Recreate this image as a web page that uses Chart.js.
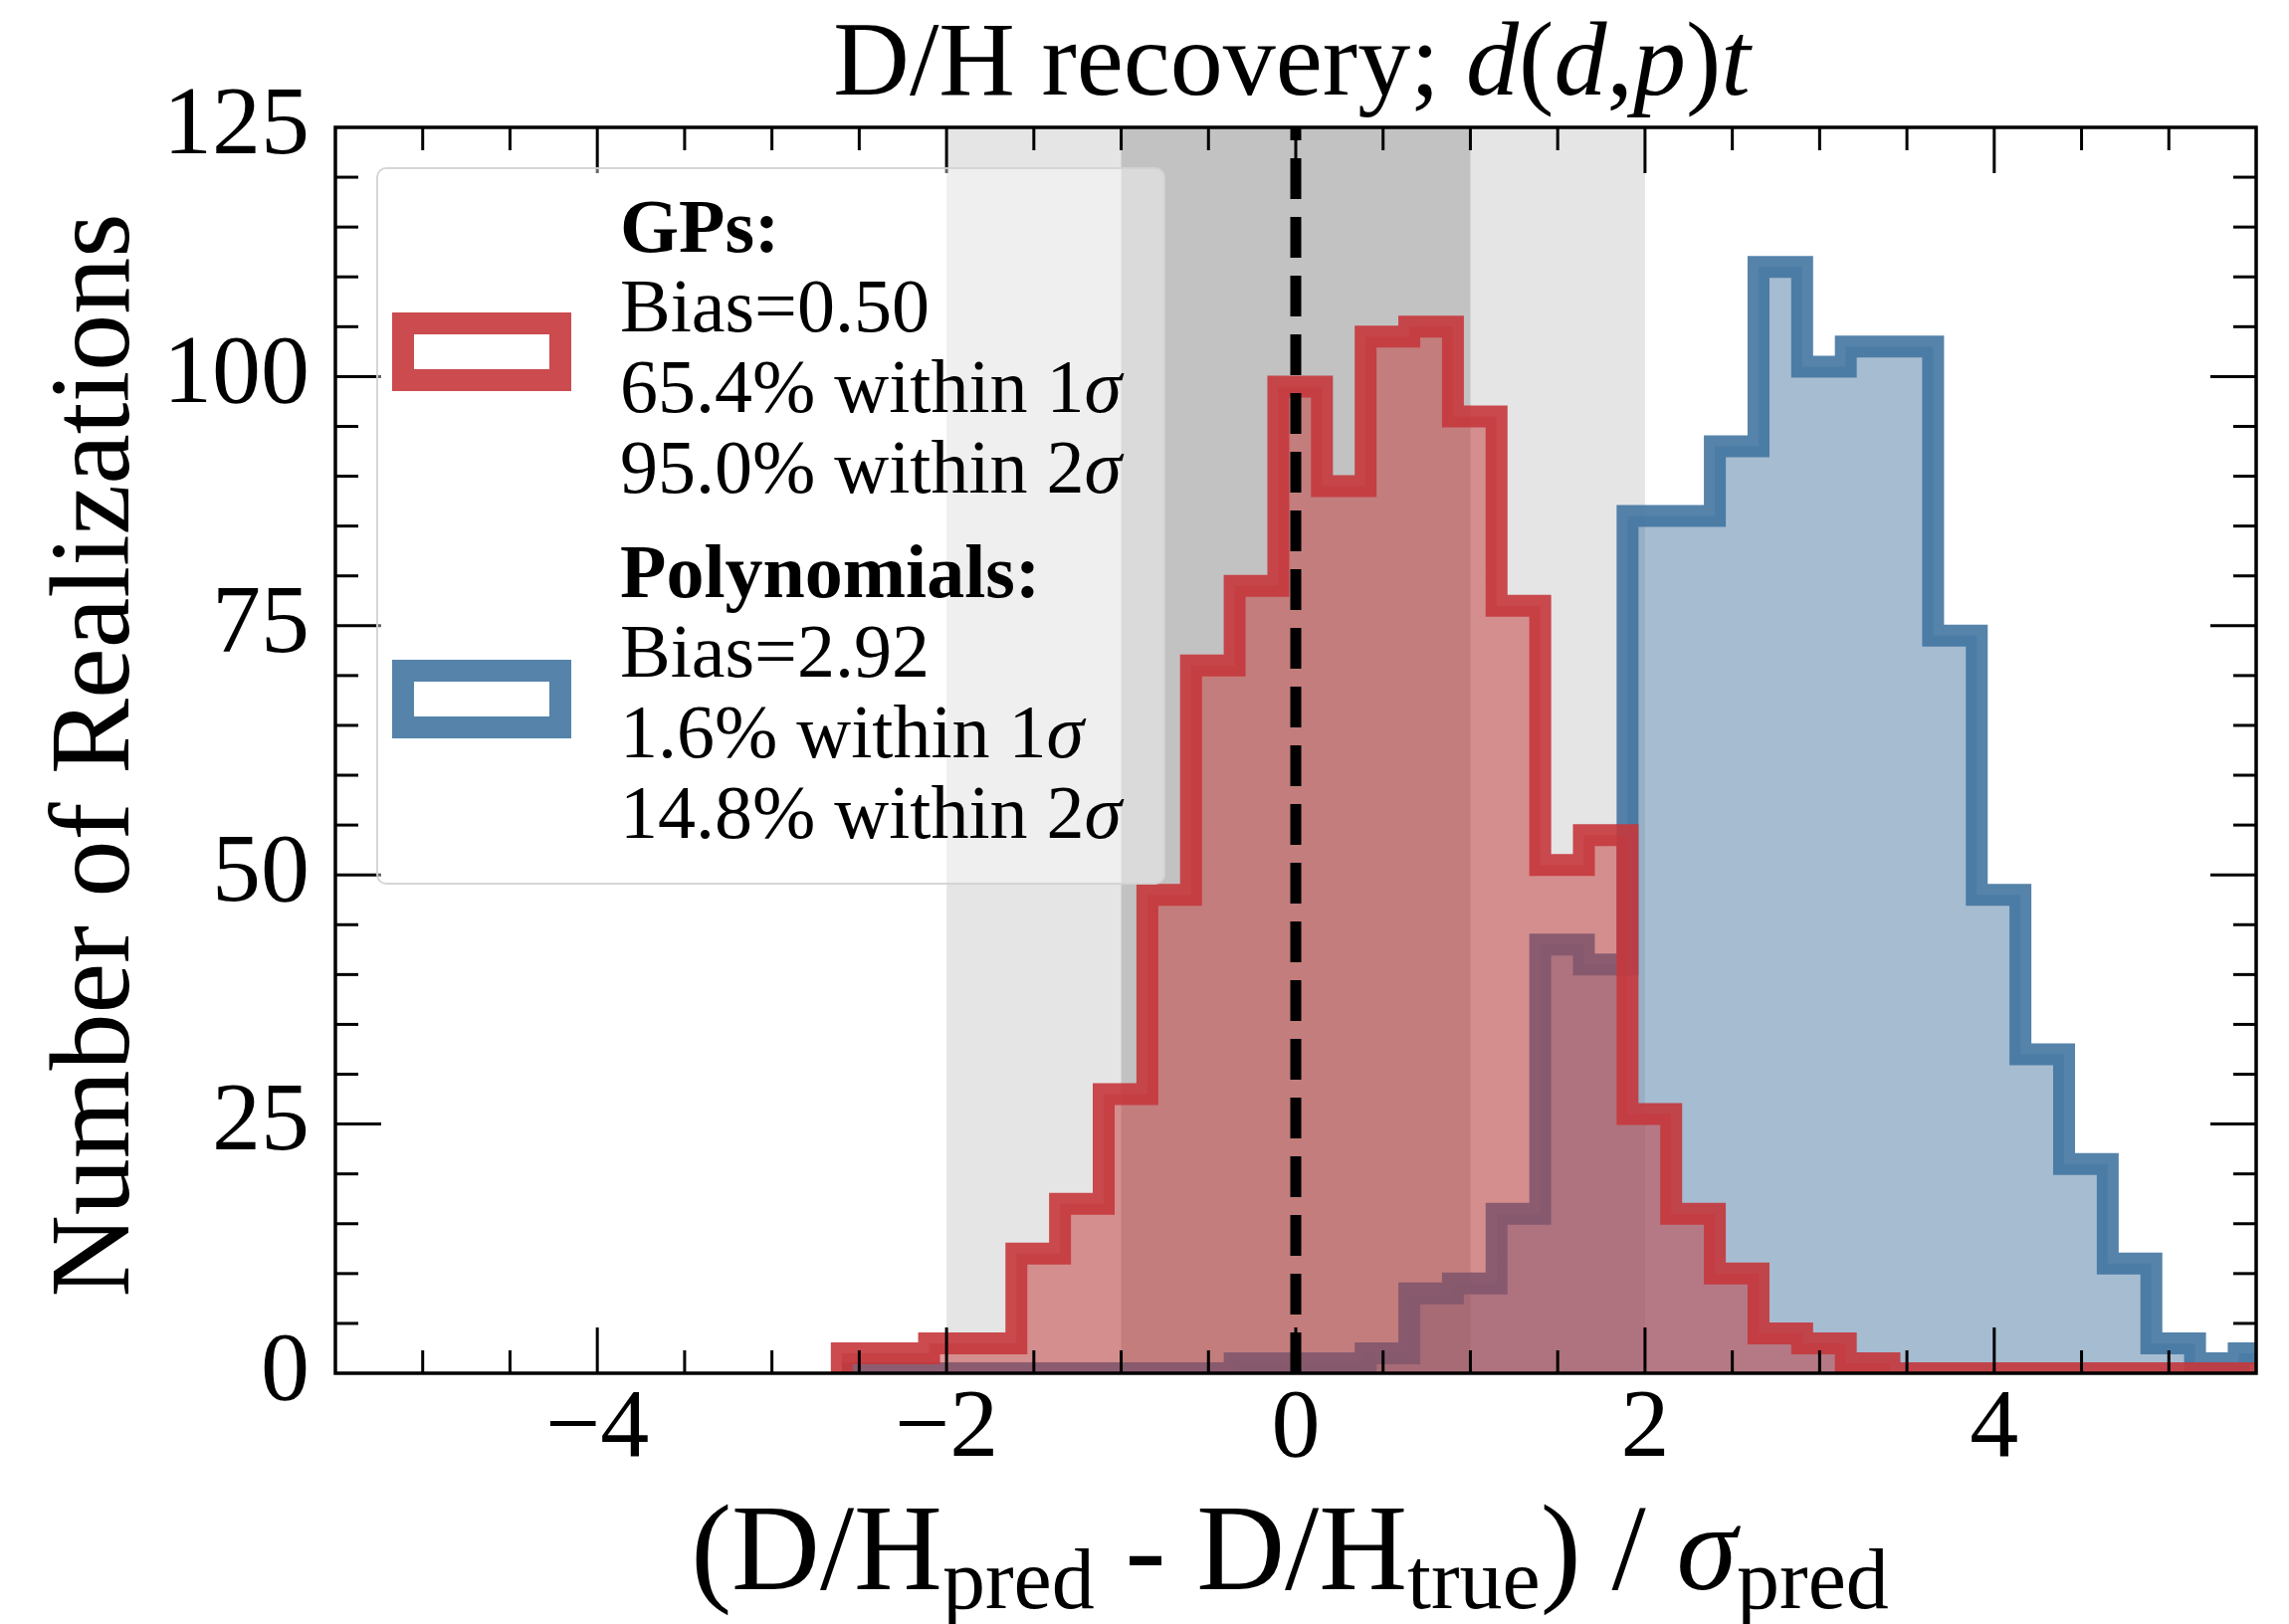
<!DOCTYPE html>
<html>
<head>
<meta charset="utf-8">
<script src="https://cdn.jsdelivr.net/npm/chart.js@4.4.0/dist/chart.umd.min.js"></script>
<style>
  html, body { margin: 0; padding: 0; background: #ffffff; }
  #wrap { width: 2300px; height: 1632px; position: relative; }
</style>
</head>
<body>
<div id="wrap"><canvas id="chart"></canvas></div>
<script>
// ---------------- data ----------------
const binEdges = [-2.60, -2.35, -2.10, -1.85, -1.60, -1.35, -1.10, -0.85, -0.60, -0.35,
                  -0.10, 0.15, 0.40, 0.65, 0.90, 1.15, 1.40, 1.65, 1.90, 2.15,
                  2.40, 2.65, 2.90, 3.15, 3.40, 3.65, 3.90, 4.15, 4.40, 4.65,
                  4.90, 5.15, 5.40, 5.65];
const gpCounts   = [2, 2, 3, 3, 12, 17, 28, 48, 71, 79,
                    99, 89, 104, 105, 96, 77, 51, 54, 26, 16,
                    10, 4, 3, 1, 0, 0, 0, 0, 0, 0,
                    0, 0, 0];
const polyCounts = [0, 0, 0, 0, 0, 0, 0, 0, 0, 1,
                    1, 1, 2, 8, 9, 16, 43, 41, 86, 86,
                    93, 111, 101, 103, 103, 74, 48, 32, 21, 11,
                    3, 1, 2];
const xTicks = [-4, -2, 0, 2, 4];
const yTicks = [0, 25, 50, 75, 100, 125];
const sigmaBands = [2, 1];
const refLine = 0;
const seriesNames = ['GPs:', 'Polynomials:'];
const gpStats   = ['Bias=0.50', '65.4% within 1σ', '95.0% within 2σ'];
const polyStats = ['Bias=2.92', '1.6% within 1σ', '14.8% within 2σ'];
const chartTitle = 'D/H recovery; d(d,p)t';
const yTitle = 'Number of Realizations';

// ---------------- styling ----------------
const SERIF = "'Liberation Serif', 'DejaVu Serif', serif";
const RED_LINE = 'rgba(197,55,60,0.9)';
const RED_FILL = 'rgba(195,55,55,0.5)';
const BLUE_LINE = 'rgba(66,117,161,0.9)';
const BLUE_FILL = 'rgba(77,121,163,0.5)';

function stepPoints(edges, counts) {
  const pts = [{ x: edges[0], y: 0 }];
  counts.forEach((c, i) => pts.push({ x: edges[i], y: c }));
  pts.push({ x: edges[edges.length - 1], y: 0 });
  return pts;
}

function fmtTick(v) {
  return v < 0 ? '\u2212' + Math.abs(v) : String(v);
}

function drawRich(ctx, segs, x, y, align) {
  let total = 0;
  const widths = segs.map(s => { ctx.font = s.font; const w = ctx.measureText(s.text).width; total += w; return w; });
  let cx = align === 'center' ? x - total / 2 : x;
  ctx.textAlign = 'left';
  ctx.textBaseline = 'alphabetic';
  segs.forEach((s, i) => {
    ctx.font = s.font;
    ctx.fillText(s.text, cx, y + (s.dy || 0));
    cx += widths[i];
  });
}

function sigmaSegs(str, size, weight) {
  const parts = str.split('σ');
  const segs = [];
  parts.forEach((p, i) => {
    if (p) segs.push({ text: p, font: `${weight} ${size}px ${SERIF}` });
    if (i < parts.length - 1) segs.push({ text: 'σ', font: `italic ${weight} ${size}px ${SERIF}` });
  });
  return segs;
}

// bands under the histograms, dashed reference line above them
const bandsPlugin = {
  id: 'bands',
  beforeDatasetsDraw(chart) {
    const { ctx, chartArea: a, scales: { x } } = chart;
    ctx.save();
    const cols = ['#e5e5e5', '#c2c2c2'];
    sigmaBands.forEach((s, i) => {
      const l = x.getPixelForValue(-s), r = x.getPixelForValue(s);
      ctx.fillStyle = cols[i];
      ctx.fillRect(l, a.top, r - l, a.bottom - a.top);
    });
    ctx.restore();
  },
  afterDatasetsDraw(chart) {
    const { ctx, chartArea: a, scales: { x } } = chart;
    const px = x.getPixelForValue(refLine);
    ctx.save();
    ctx.strokeStyle = '#000';
    ctx.lineWidth = 11;
    ctx.lineCap = 'butt';
    ctx.setLineDash([41, 18]);
    ctx.beginPath();
    ctx.moveTo(px, a.bottom);
    ctx.lineTo(px, a.top);
    ctx.stroke();
    ctx.restore();
  }
};

// frame, inward ticks, titles, legend
const decorPlugin = {
  id: 'decor',
  afterDraw(chart) {
    const { ctx, chartArea: a, scales: { x, y } } = chart;
    ctx.save();
    ctx.strokeStyle = '#000';
    ctx.lineWidth = 3;
    const line = (x1, y1, x2, y2) => { ctx.beginPath(); ctx.moveTo(x1, y1); ctx.lineTo(x2, y2); ctx.stroke(); };
    for (let k = -10; k <= 10; k++) {
      const v = k * 0.5;
      const px = x.getPixelForValue(v);
      const L = xTicks.includes(v) ? 46 : 23;
      line(px, a.bottom, px, a.bottom - L);
      line(px, a.top, px, a.top + L);
    }
    for (let k = 1; k < 25; k++) {
      const v = k * 5;
      const py = y.getPixelForValue(v);
      const L = yTicks.includes(v) ? 46 : 23;
      line(a.left, py, a.left + L, py);
      line(a.right, py, a.right - L, py);
    }
    ctx.lineWidth = 3.5;
    ctx.strokeRect(a.left, a.top, a.right - a.left, a.bottom - a.top);

    ctx.fillStyle = '#000';
    // chart title
    const T = 106;
    drawRich(ctx, [
      { text: 'D/H recovery; ', font: `${T}px ${SERIF}` },
      { text: 'd', font: `italic ${T}px ${SERIF}` },
      { text: '(', font: `${T}px ${SERIF}` },
      { text: 'd', font: `italic ${T}px ${SERIF}` },
      { text: ',', font: `${T}px ${SERIF}` },
      { text: 'p', font: `italic ${T}px ${SERIF}` },
      { text: ')', font: `${T}px ${SERIF}` },
      { text: 't', font: `italic ${T}px ${SERIF}` }
    ], (a.left + a.right) / 2 - 4, 95, 'center');

    // x-axis title
    const M = 123, S = 86, D = 19;
    drawRich(ctx, [
      { text: '(D/H', font: `${M}px ${SERIF}` },
      { text: 'pred', font: `${S}px ${SERIF}`, dy: D },
      { text: ' - D/H', font: `${M}px ${SERIF}` },
      { text: 'true', font: `${S}px ${SERIF}`, dy: D },
      { text: ') / ', font: `${M}px ${SERIF}` },
      { text: 'σ', font: `italic ${M}px ${SERIF}` },
      { text: 'pred', font: `${S}px ${SERIF}`, dy: D }
    ], (a.left + a.right) / 2 - 6, 1597, 'center');

    // y-axis title
    ctx.save();
    ctx.translate(129, (a.top + a.bottom) / 2 + 5);
    ctx.rotate(-Math.PI / 2);
    ctx.font = `114px ${SERIF}`;
    ctx.textAlign = 'center';
    ctx.textBaseline = 'alphabetic';
    ctx.fillText(yTitle, 0, 0);
    ctx.restore();

    // legend
    ctx.beginPath();
    ctx.roundRect(379, 169, 791, 719, 9);
    ctx.fillStyle = 'rgba(255,255,255,0.4)';
    ctx.fill();
    ctx.lineWidth = 2;
    ctx.strokeStyle = 'rgba(210,210,210,0.9)';
    ctx.stroke();

    ctx.lineJoin = 'miter';
    ctx.lineWidth = 22;
    ctx.strokeStyle = RED_LINE;
    ctx.strokeRect(405, 325, 158, 57);
    ctx.strokeStyle = BLUE_LINE;
    ctx.strokeRect(405, 674, 158, 57);

    ctx.fillStyle = '#000';
    const LS = 76, tx = 623;
    const groups = [[seriesNames[0], gpStats, 253], [seriesNames[1], polyStats, 600]];
    groups.forEach(([name, stats, base]) => {
      drawRich(ctx, [{ text: name, font: `bold ${LS}px ${SERIF}` }], tx, base, 'left');
      stats.forEach((s, i) => drawRich(ctx, sigmaSegs(s, LS, 'normal'), tx, base + 80 + i * 81, 'left'));
    });
    ctx.restore();
  }
};

const ctxEl = document.getElementById('chart');
new Chart(ctxEl, {
  type: 'line',
  data: {
    datasets: [
      {
        label: seriesNames[0],
        data: stepPoints(binEdges, gpCounts),
        stepped: 'before',
        borderColor: RED_LINE,
        backgroundColor: RED_FILL,
        borderWidth: 22,
        borderJoinStyle: 'miter',
        borderCapStyle: 'butt',
        fill: 'origin',
        pointRadius: 0,
        clip: 0,
        order: 0
      },
      {
        label: seriesNames[1],
        data: stepPoints(binEdges, polyCounts),
        stepped: 'before',
        borderColor: BLUE_LINE,
        backgroundColor: BLUE_FILL,
        borderWidth: 22,
        borderJoinStyle: 'miter',
        borderCapStyle: 'butt',
        fill: 'origin',
        pointRadius: 0,
        clip: 0,
        order: 1
      }
    ]
  },
  options: {
    responsive: true,
    maintainAspectRatio: false,
    animation: false,
    devicePixelRatio: 1,
    layout: { padding: { left: 0, top: 128, right: 33, bottom: 0 } },
    plugins: { legend: { display: false }, tooltip: { enabled: false }, title: { display: false } },
    elements: { point: { radius: 0 }, line: { tension: 0 } },
    scales: {
      x: {
        type: 'linear', min: -5.5, max: 5.5,
        grid: { display: false, drawTicks: false },
        border: { display: false },
        ticks: { font: { family: SERIF, size: 98, lineHeight: 1 }, color: '#000', padding: 8, maxRotation: 0, autoSkip: false, callback: v => fmtTick(v) },
        afterBuildTicks: s => { s.ticks = xTicks.map(v => ({ value: v })); },
        afterFit: s => { s.height = 252; }
      },
      y: {
        type: 'linear', min: 0, max: 125,
        grid: { display: false, drawTicks: false },
        border: { display: false },
        ticks: { font: { family: SERIF, size: 98, lineHeight: 1 }, color: '#000', padding: 26, autoSkip: false, callback: v => fmtTick(v) },
        afterBuildTicks: s => { s.ticks = yTicks.map(v => ({ value: v })); },
        afterFit: s => { s.width = 337; }
      }
    }
  },
  plugins: [bandsPlugin, decorPlugin]
});
</script>
</body>
</html>
